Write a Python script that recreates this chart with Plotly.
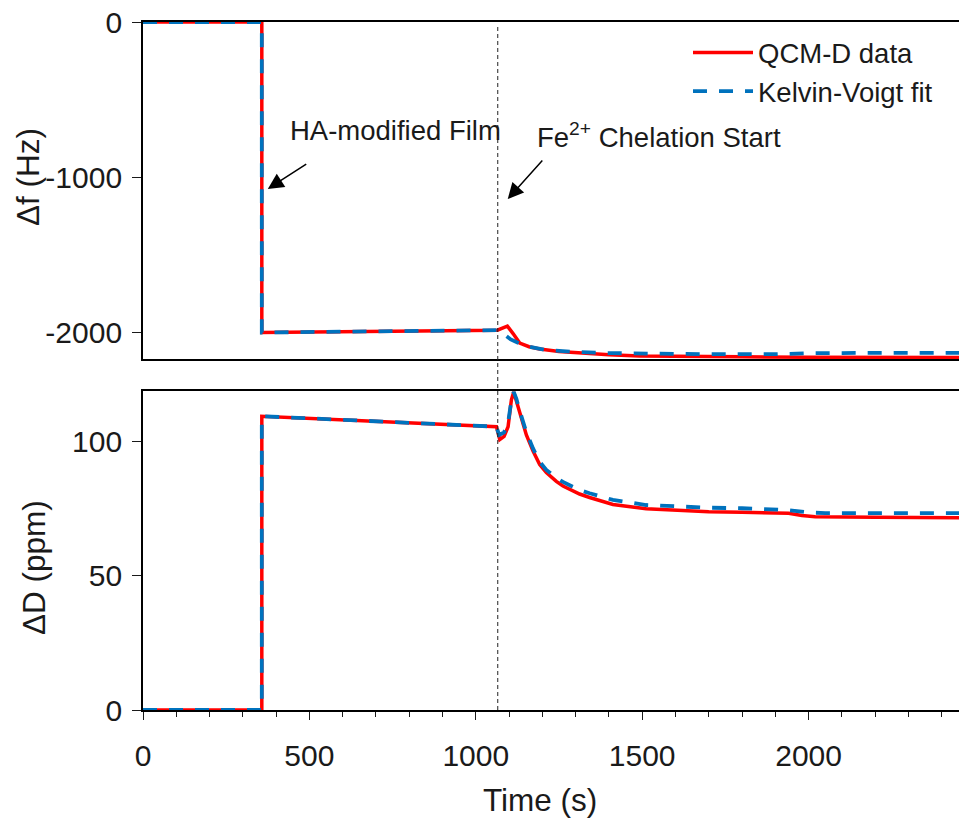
import plotly.graph_objects as go
from plotly.subplots import make_subplots

# ---- QCM-D frequency shift (Hz) ----
t_df_data = [0, 357, 357, 500, 700, 900, 1065, 1080, 1095, 1112, 1132, 1160, 1192,
             1250, 1312, 1400, 1492, 1600, 1800, 2000, 2200, 2452]
df_data = [0, 0, -2003, -2000, -1996, -1992, -1988, -1975, -1962, -2010, -2071, -2095,
           -2110, -2126, -2136, -2147, -2155, -2158, -2160, -2162, -2163, -2164]

t_df_fit = [0, 357, 357, 500, 700, 900, 1065, 1075, 1085, 1095, 1105, 1125, 1160, 1212,
            1300, 1400, 1550, 1700, 1900, 2000, 2200, 2452]
df_fit = [0, 0, -2003, -2000, -1996, -1992, -1988, -1998, -2015, -2032, -2048, -2068,
          -2095, -2116, -2129, -2136, -2141, -2143, -2143, -2137, -2134, -2134]

# ---- QCM-D dissipation shift (ppm) ----
t_dD_data = [0, 357, 357, 700, 1062, 1072, 1085, 1097, 1107, 1114, 1122, 1132, 1142,
             1152, 1172, 1192, 1212, 1242, 1262, 1292, 1312, 1342, 1412, 1512, 1612,
             1700, 1800, 1940, 1980, 2020, 2200, 2452]
dD_data = [0, 0, 109.5, 107.6, 105.6, 100.8, 102.0, 105.6, 115.6, 118.5, 115.0, 110.7,
           106.5, 102.5, 96.5, 91.5, 88.5, 85.2, 83.5, 81.8, 80.5, 79.2, 76.6, 75.0,
           74.3, 73.9, 73.7, 73.3, 72.5, 72.0, 71.8, 71.7]

t_dD_fit = [0, 357, 357, 700, 1062, 1070, 1085, 1097, 1107, 1114, 1122, 1132, 1142,
            1152, 1172, 1192, 1212, 1242, 1262, 1292, 1312, 1342, 1412, 1512, 1612,
            1700, 1800, 1860, 1940, 2000, 2050, 2452]
dD_fit = [0, 0, 109.5, 107.6, 105.6, 102.5, 103.5, 107.0, 115.5, 118.5, 116.0, 111.5,
          107.5, 103.5, 97.5, 92.5, 89.5, 86.5, 85.0, 83.2, 82.0, 80.8, 78.3, 76.4,
          75.7, 75.4, 75.2, 74.9, 74.5, 73.6, 73.4, 73.4]

chelation_t = 1066

x_ticks = [0, 500, 1000, 1500, 2000]
df_ticks = [0, -1000, -2000]
dD_ticks = [0, 50, 100]

RED = "#FF0000"
BLUE = "#0072BD"
FONT = "Liberation Sans, Arial, Helvetica, sans-serif"
INK = "#1a1a1a"

W, H = 959, 819
ML, MR, MT, MB = 143, 0, 22, 109
PW, PH = W - ML - MR, H - MT - MB


def px(x):
    return (x - ML) / PW


def py(y):
    return (H - MB - y) / PH


fig = make_subplots(rows=2, cols=1, shared_xaxes=False, vertical_spacing=0.0)

fig.add_trace(go.Scatter(x=t_df_data, y=df_data, mode="lines", name="QCM-D data",
                         line=dict(color=RED, width=3.5)), row=1, col=1)
fig.add_trace(go.Scatter(x=t_df_fit, y=df_fit, mode="lines", name="Kelvin-Voigt fit",
                         line=dict(color=BLUE, width=3.8, dash="14px,12px")), row=1, col=1)
fig.add_trace(go.Scatter(x=t_dD_data, y=dD_data, mode="lines", name="QCM-D data",
                         showlegend=False, line=dict(color=RED, width=3.5)), row=2, col=1)
fig.add_trace(go.Scatter(x=t_dD_fit, y=dD_fit, mode="lines", name="Kelvin-Voigt fit",
                         showlegend=False,
                         line=dict(color=BLUE, width=3.8, dash="14px,12px")), row=2, col=1)

x_range = [0, 2452]
axis_common = dict(showline=True, linecolor="black", linewidth=1.8, showgrid=False,
                   zeroline=False, tickcolor=INK, tickwidth=1,
                   tickfont=dict(family=FONT, size=30, color=INK), layer="below traces")

fig.update_layout(
    xaxis=dict(**axis_common, domain=[0, 1], range=x_range, anchor="y", mirror=True,
               ticks="", showticklabels=False),
    yaxis=dict(**axis_common, domain=[py(359), 1], range=[-2174, 0], tickvals=df_ticks,
               ticktext=[str(v) for v in df_ticks], ticks="outside", ticklen=9,
               ticklabelstandoff=4),
    xaxis2=dict(**axis_common, domain=[0, 1], range=x_range, anchor="y2", mirror=True,
                tickvals=x_ticks, ticks="outside", ticklen=8,
                minor=dict(dtick=100, tick0=0, ticks="outside", ticklen=5,
                           tickcolor=INK, tickwidth=1),
                ticklabelstandoff=10),
    yaxis2=dict(**axis_common, domain=[0, py(391)], range=[0, 118.9], tickvals=dD_ticks,
                ticks="outside", ticklen=9, ticklabelstandoff=4),
)

# Fe2+ injection marker spanning both panels
fig.add_shape(type="line", xref="x2", yref="paper", x0=chelation_t, x1=chelation_t,
              y0=0, y1=py(27), line=dict(color="#222222", width=1, dash="4px,3px"),
              layer="above")

ann_font = dict(family=FONT, size=27.5, color=INK)
title_font = dict(family=FONT, size=31.5, color=INK)

arrow_style = dict(text="", showarrow=True, arrowhead=2, arrowsize=2.1, arrowwidth=1.5,
                   arrowcolor="black", xref="x", yref="y", axref="x", ayref="y")

annotations = [
    # pointer arrows
    dict(x=375, y=-1077, ax=495, ay=-910, **arrow_style),
    dict(x=1096, y=-1142, ax=1204, ay=-884, **arrow_style),
    # labels
    dict(x=px(288), y=py(131), xref="paper", yref="paper", xanchor="left",
         yanchor="middle", text="HA-modified Film", showarrow=False, font=ann_font),
    dict(x=px(535), y=py(136), xref="paper", yref="paper", xanchor="left",
         yanchor="middle", text="Fe<sup>2+</sup> Chelation Start", showarrow=False,
         font=ann_font),
    # axis titles
    dict(x=px(540), y=py(800), xref="paper", yref="paper", xanchor="center",
         yanchor="middle", text="Time (s)", showarrow=False, font=title_font),
    dict(x=px(28), y=py(177), xref="paper", yref="paper", xanchor="center",
         yanchor="middle", text="Δf (Hz)", textangle=-90, showarrow=False,
         font=title_font),
    dict(x=px(34), y=py(568), xref="paper", yref="paper", xanchor="center",
         yanchor="middle", text="ΔD (ppm)", textangle=-90, showarrow=False,
         font=title_font),
]

fig.update_layout(
    width=W, height=H,
    margin=dict(l=ML, r=MR, t=MT, b=MB),
    paper_bgcolor="white", plot_bgcolor="white",
    font=dict(family=FONT, color=INK),
    annotations=annotations,
    legend=dict(x=px(688), y=py(28), xanchor="left", yanchor="top",
                bgcolor="rgba(0,0,0,0)", font=dict(family=FONT, size=27.5, color=INK),
                itemwidth=60, tracegroupgap=0),
)

fig.write_html("out.html")
